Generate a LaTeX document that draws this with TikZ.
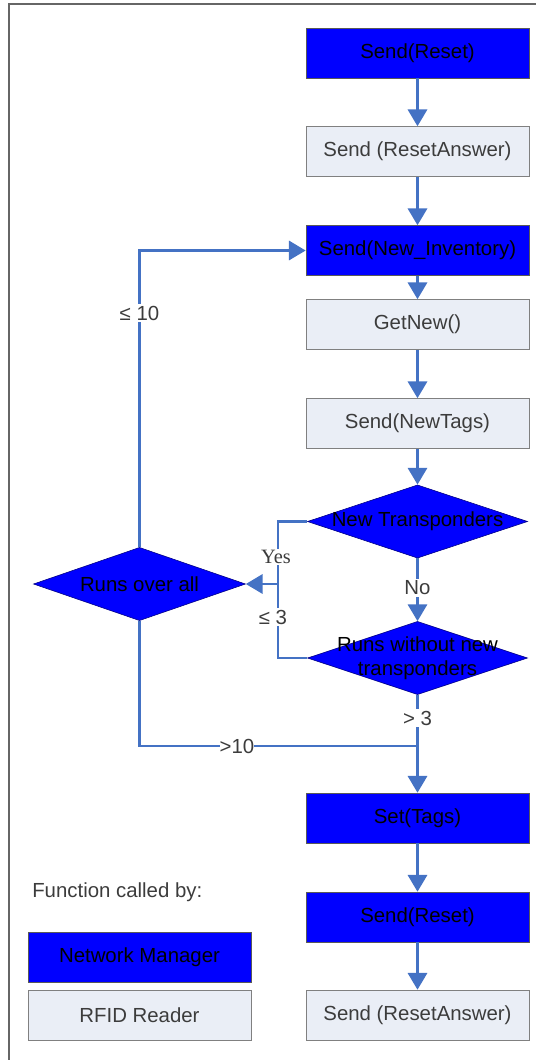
\documentclass[tikz,border=0pt]{standalone}
\usepackage{fontspec}
\setmainfont{Liberation Sans}
\newfontfamily\yesfont{Liberation Serif}
\usepackage{tikz}
\usetikzlibrary{shapes,arrows,positioning,calc,arrows.meta}
\definecolor{nmblue}{RGB}{0,0,255}
\definecolor{rdgray}{RGB}{234,238,246}
\definecolor{flowblue}{RGB}{68,114,196}
\definecolor{txtgray}{RGB}{60,60,60}

\begin{document}
\begin{tikzpicture}[x=0.025cm,y=-0.025cm,
    font=\fontsize{14.5}{17}\selectfont,
    nmbox/.style={draw=black!65,fill=nmblue,minimum width=5.575cm,minimum height=1.25cm,inner sep=0pt},
    rdbox/.style={draw=black!50,fill=rdgray,text=txtgray,minimum width=5.575cm,minimum height=1.25cm,inner sep=0pt},
    decision/.style={diamond,fill=nmblue,draw=blue!50!black,minimum width=5.5cm,minimum height=1.83cm,inner sep=0pt},
    flow/.style={draw=flowblue,line width=2pt},
    arr/.style={flow,-{Triangle[width=0.48cm,length=0.42cm]}},
    lbl/.style={fill=white,text=txtgray,inner sep=1pt}]
    \useasboundingbox (0,0) rectangle (536,1060);
    % frame
    \draw[black!60,line width=1.2pt] (9,1060) |- (536,4);

    % main column
    \node[nmbox] (reset) at (417.5,53) {Send(Reset)};
    \node[rdbox] (answer) at (417.5,151.5) {Send (ResetAnswer)};
    \node[nmbox] (newinv) at (417.5,250.5) {Send(New\_Inventory)};
    \node[rdbox] (getnew) at (417.5,324.5) {GetNew()};
    \node[rdbox] (newtags) at (417.5,423.5) {Send(NewTags)};
    \node[decision] (newtr) at (417.5,521.5) {};
    \node (newtrtext) at (newtr) {New Transponders};
    \node[decision] (runsnew) at (417.5,658) {};
    \node[align=center] (runsnewtext) at (runsnew) {Runs without new\\transponders};
    \node[nmbox] (settags) at (417.5,818) {Set(Tags)};
    \node[nmbox] (reset2) at (417.5,917) {Send(Reset)};
    \node[rdbox] (answer2) at (417.5,1015) {Send (ResetAnswer)};

    % loop counter
    \node[decision,minimum width=5.3cm] (runsall) at (139.5,584) {};
    \node (runsalltext) at (runsall) {Runs over all};
    \coordinate (yesjoin) at (278,584);
    \coordinate (outjoin) at (417.5,746);

    % legend
    \node[anchor=west,inner sep=0pt,text=txtgray] (legend) at (32,892) {Function called by:};
    \node[nmbox] (legnm) at (139.5,957) {Network Manager};
    \node[rdbox] (legrd) at (139.5,1015.5) {RFID Reader};

    \draw[arr] (reset) -- (answer);
    \draw[arr] (answer) -- (newinv);
    \draw[arr] (newinv) -- (getnew);
    \draw[arr] (getnew) -- (newtags);
    \draw[arr] (newtags) -- (newtr);
    \draw[arr] (newtr) -- (runsnew);
    \draw[arr] (runsnew) -- (settags);
    \draw[arr] (settags) -- (reset2);
    \draw[arr] (reset2) -- (answer2);
    \draw[flow] (newtr.west) -| (yesjoin);
    \draw[flow] (runsnew.west) -| (yesjoin);
    \draw[arr] (yesjoin) -- (runsall.east);
    \draw[arr] (runsall.north) |- (newinv.west);
    \draw[flow] (runsall.south) |- (outjoin);

    % branch labels
    \node[lbl] (yes) at (276,557) {\yesfont Yes};
    \node[lbl] (le3) at (273,617) {≤ 3};
    \node[lbl] (no) at (417.5,588) {No};
    \node[lbl] (gt3) at (417.5,718) {> 3};
    \node[lbl] (le10) at (139.5,313) {≤ 10};
    \node[lbl,inner sep=0pt] (gt10) at (237,746) {>10};
\end{tikzpicture}
\end{document}
